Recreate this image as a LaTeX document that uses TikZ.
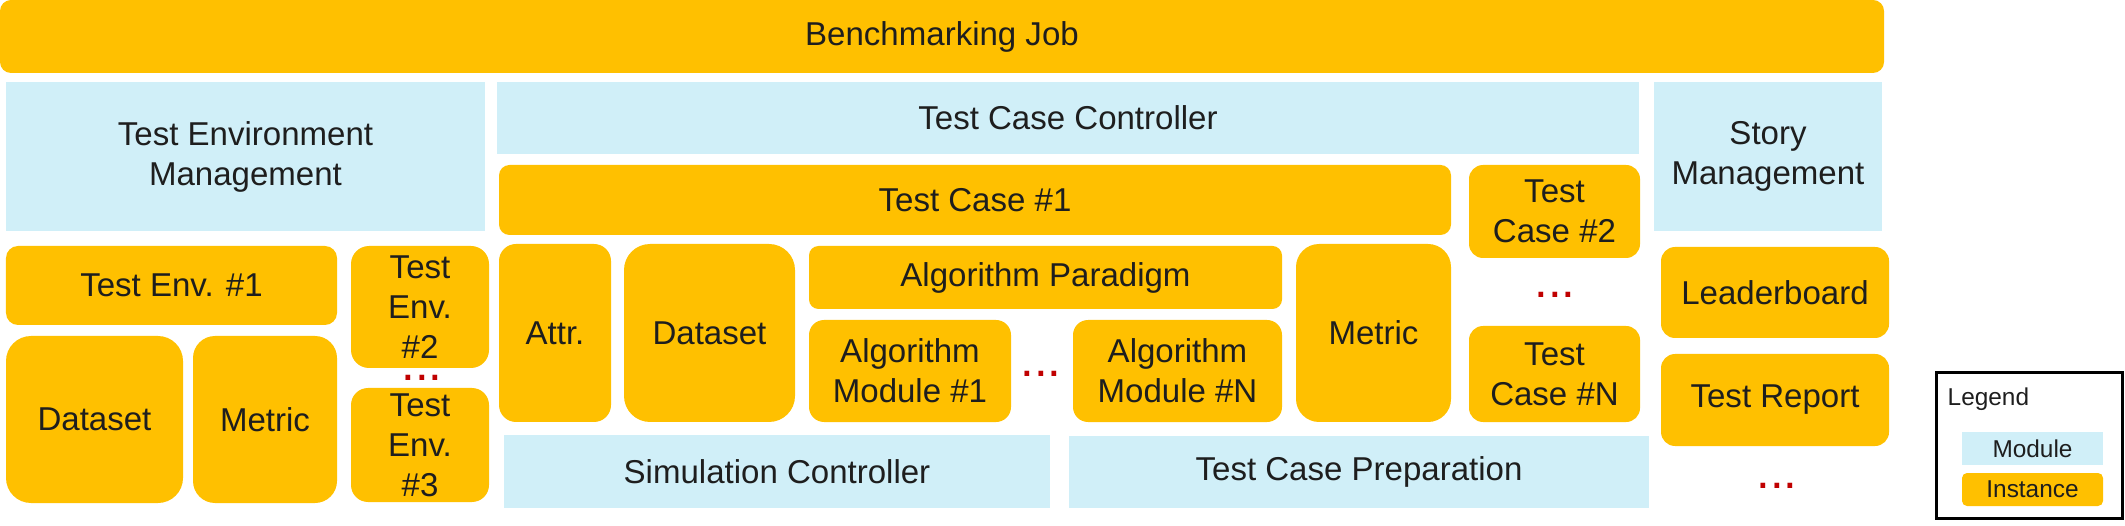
\documentclass[tikz,border=0pt]{standalone}
\usepackage{fontspec}
\setmainfont{Liberation Sans}
\usetikzlibrary{positioning}
\definecolor{module}{RGB}{208,239,248}
\definecolor{instance}{RGB}{255,192,0}
\definecolor{dotred}{RGB}{192,0,0}
\definecolor{ink}{RGB}{30,30,30}

\begin{document}
\begin{tikzpicture}[
    mod/.style={rectangle, fill=module, inner sep=0pt, align=center, text=ink,
                font=\fontsize{9.4}{11.4}\selectfont},
    inst/.style={rectangle, fill=instance, inner sep=0pt, align=center, text=ink,
                 rounded corners=#1, font=\fontsize{9.4}{11.4}\selectfont},
    inst/.default=0.15cm,
    more/.style={inner sep=0pt, text=dotred, font=\fontsize{14}{14}\selectfont},
    wh/.style 2 args={minimum width=#1cm, minimum height=#2cm}
]
    \useasboundingbox (0,0) rectangle (21.25,-5.26);

    % Job
    \node[inst=0.11cm, wh={18.84}{0.73}] (job) at (9.42,-0.365) {Benchmarking Job};

    % Modules
    \node[mod, wh={4.79}{1.49}] (envmgmt) at (2.455,-1.565) {Test Environment\\Management};
    \node[mod, wh={11.42}{0.72}] (tcctrl) at (10.68,-1.18) {Test Case Controller};
    \node[mod, wh={2.28}{1.49}] (storymgmt) at (17.68,-1.565) {Story\\Management};
    \node[mod, wh={5.46}{0.73}] (simctrl) at (7.77,-4.715) {Simulation Controller};
    \node[mod, wh={5.80}{0.72}] (tcprep) at (13.59,-4.72) {Test Case Preparation};

    % Test environments
    \node[inst=0.12cm, wh={3.31}{0.79}] (env1) at (1.715,-2.855) {Test Env. \#1};
    \node[inst=0.18cm, wh={1.38}{1.22}] (env2) at (4.20,-3.07) {Test\\Env.\\\#2};
    \node[more] (envmore) at (4.22,-3.775) {...};
    \node[inst=0.17cm, wh={1.38}{1.14}] (env3) at (4.20,-4.45) {Test\\Env.\\\#3};
    \node[inst=0.25cm, wh={1.77}{1.67}] (envdata) at (0.945,-4.195) {Dataset};
    \node[inst=0.22cm, wh={1.44}{1.67}] (envmetric) at (2.65,-4.195) {Metric};

    % Test cases
    \node[inst=0.105cm, wh={9.52}{0.70}] (case1) at (9.75,-2.00) {Test Case \#1};
    \node[inst=0.14cm, wh={1.71}{0.93}] (case2) at (15.545,-2.115) {Test\\Case \#2};
    \node[more] (casemore) at (15.55,-2.95) {...};
    \node[inst=0.14cm, wh={1.71}{0.96}] (casen) at (15.545,-3.74) {Test\\Case \#N};
    \node[inst=0.17cm, wh={1.12}{1.78}] (attr) at (5.55,-3.33) {Attr.};
    \node[inst=0.26cm, wh={1.71}{1.78}] (casedata) at (7.095,-3.33) {Dataset};
    \node[inst=0.095cm, wh={4.73}{0.63}] (paradigm) at (10.455,-2.775) {Algorithm Paradigm};
    \node[inst, wh={2.02}{1.02}] (algo1) at (9.10,-3.71) {Algorithm\\Module \#1};
    \node[more] (algomore) at (10.41,-3.74) {...};
    \node[inst, wh={2.09}{1.02}] (algon) at (11.775,-3.71) {Algorithm\\Module \#N};
    \node[inst=0.23cm, wh={1.55}{1.78}] (casemetric) at (13.735,-3.33) {Metric};

    % Story outputs
    \node[inst=0.14cm, wh={2.28}{0.91}] (board) at (17.75,-2.925) {Leaderboard};
    \node[inst=0.14cm, wh={2.28}{0.92}] (report) at (17.75,-4.00) {Test Report};
    \node[more] (storymore) at (17.77,-4.86) {...};

    % Legend
    \node[draw=black, line width=0.77pt, wh={1.863}{1.463}] (legend) at (20.295,-4.455) {};
    \node[anchor=base west, inner sep=0pt, text=ink, font=\fontsize{6.94}{8}\selectfont]
        (legtitle) at (19.47,-4.05) {Legend};
    \node[mod, wh={1.41}{0.33}, font=\fontsize{6.94}{8}\selectfont] (legmod) at (20.325,-4.485) {Module};
    \node[inst=0.05cm, wh={1.41}{0.33}, font=\fontsize{6.94}{8}\selectfont] (leginst) at (20.325,-4.895) {Instance};
\end{tikzpicture}
\end{document}
